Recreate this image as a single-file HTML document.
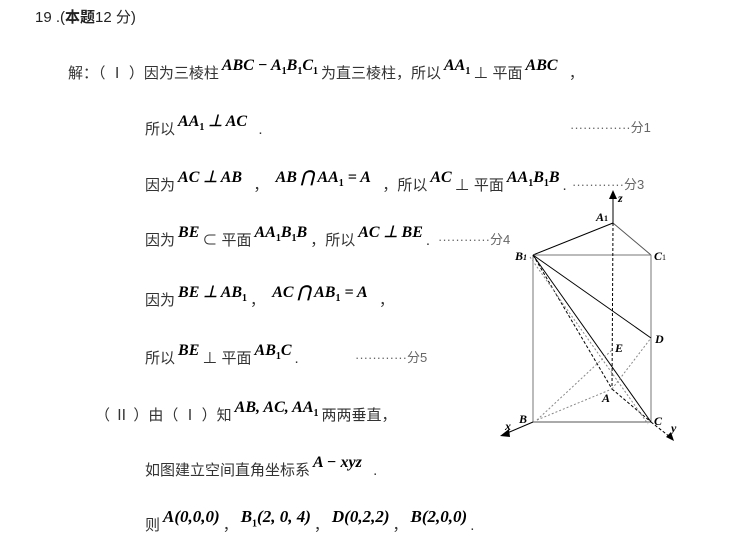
<!DOCTYPE html>
<html><head><meta charset="utf-8"><style>
body{margin:0;width:735px;height:550px;background:#fff;position:relative;overflow:hidden;font-family:"Liberation Sans","Noto Sans CJK SC",sans-serif;color:#333;font-size:15px}
.l{position:absolute;white-space:nowrap;line-height:20px}
.m{font-family:"Liberation Serif",serif;font-weight:bold;font-style:italic;font-size:16px;color:#000;position:relative;top:-8px;margin:0 3px}
.m sub{font-size:10px;font-style:normal}
.d{color:#666;font-size:13px}
</style></head><body>
<div class="l" style="left:35px;top:8px;color:#222">19 .(<b>本题</b>12 分)</div>
<div class="l" style="left:68px;top:64px">解：（ Ⅰ ）因为三棱柱<span class="m">ABC − A<sub>1</sub>B<sub>1</sub>C<sub>1</sub></span>为直三棱柱，所以<span class="m">AA<sub>1</sub></span>⊥ 平面<span class="m">ABC</span> &nbsp;，</div>
<div class="l" style="left:145px;top:120px">所以<span class="m">AA<sub>1</sub> ⊥ AC</span> &nbsp;.</div>
<div class="l d" style="left:570px;top:118px">··············分1</div>
<div class="l" style="left:145px;top:176px">因为<span class="m">AC ⊥ AB</span> &nbsp;， <span class="m">AB ⋂ AA<sub>1</sub> = A</span> &nbsp;，所以<span class="m">AC</span>⊥ 平面<span class="m">AA<sub>1</sub>B<sub>1</sub>B</span>.</div>
<div class="l d" style="left:572px;top:175px">············分3</div>
<div class="l" style="left:145px;top:231px">因为<span class="m">BE</span>⊂ 平面<span class="m">AA<sub>1</sub>B<sub>1</sub>B</span>，所以<span class="m">AC ⊥ BE</span>.</div>
<div class="l d" style="left:438px;top:230px">············分4</div>
<div class="l" style="left:145px;top:291px">因为<span class="m">BE ⊥ AB<sub>1</sub></span>， <span class="m">AC ⋂ AB<sub>1</sub> = A</span> &nbsp;，</div>
<div class="l" style="left:145px;top:349px">所以<span class="m">BE</span>⊥ 平面<span class="m">AB<sub>1</sub>C</span>.</div>
<div class="l d" style="left:355px;top:348px">············分5</div>
<div class="l" style="left:95px;top:406px">（ Ⅱ ）由（ Ⅰ ）知<span class="m">AB, AC, AA<sub>1</sub></span>两两垂直，</div>
<div class="l" style="left:145px;top:461px">如图建立空间直角坐标系<span class="m">A − xyz</span> &nbsp;.</div>
<div class="l" style="left:145px;top:515px">则<span class="m" style="font-size:17px">A(0,0,0)</span>，<span class="m" style="font-size:17px">B<sub>1</sub>(2, 0, 4)</span>，<span class="m" style="font-size:17px">D(0,2,2)</span>，<span class="m" style="font-size:17px">B(2,0,0)</span>.</div>
<svg style="position:absolute;left:0;top:0" width="735" height="550">
<g stroke="#000" stroke-width="1" fill="none">
<line x1="613" y1="223" x2="613" y2="196"/>
<line x1="533" y1="255" x2="613" y2="223"/>
<line x1="613" y1="223" x2="651" y2="255" stroke="#555"/>
<line x1="533" y1="255" x2="651" y2="255" stroke="#777"/>
<line x1="533" y1="255" x2="533" y2="422" stroke="#777"/>
<line x1="651" y1="255" x2="651" y2="422" stroke="#777"/>
<line x1="533" y1="422" x2="651" y2="422" stroke="#555"/>
<line x1="533" y1="255" x2="651" y2="338"/>
<line x1="533" y1="255" x2="651" y2="422"/>
<line x1="613" y1="223" x2="612" y2="389" stroke-dasharray="3,2"/>
<line x1="533" y1="255" x2="612" y2="389" stroke-dasharray="3,2"/>
<line x1="612" y1="389" x2="651" y2="422" stroke-dasharray="3,2"/>
<line x1="533" y1="255" x2="651" y2="422" stroke="#888" stroke-dasharray="2,2" transform="translate(-3,2)"/>
<line x1="537" y1="420" x2="612" y2="389" stroke="#888" stroke-dasharray="2,2"/>
<line x1="537" y1="420" x2="612" y2="350" stroke="#888" stroke-dasharray="2,2"/>
<line x1="612" y1="389" x2="651" y2="338" stroke="#888" stroke-dasharray="2,2"/>
<line x1="533" y1="422" x2="505" y2="434"/>
<line x1="651" y1="422" x2="670" y2="437" stroke-dasharray="3,2"/>
</g>
<polygon points="613,190 609,199 617,199" fill="#000"/>
<polygon points="500,436 509,429 510,437" fill="#000"/>
<polygon points="674,441 666,437 671,432" fill="#000"/>
<g font-family="Liberation Serif,serif" font-style="italic" font-weight="bold" font-size="12" fill="#000">
<text x="618" y="202">z</text>
<text x="596" y="221">A<tspan font-size="8" font-style="normal">1</tspan></text>
<text x="515" y="260">B<tspan font-size="8">1</tspan></text>
<text x="654" y="260">C<tspan font-size="8" font-style="normal" font-weight="normal">1</tspan></text>
<text x="655" y="343">D</text>
<text x="615" y="352">E</text>
<text x="602" y="402">A</text>
<text x="519" y="423">B</text>
<text x="654" y="425">C</text>
<text x="505" y="430">x</text>
<text x="671" y="432">y</text>
</g>
</svg>
</body></html>
